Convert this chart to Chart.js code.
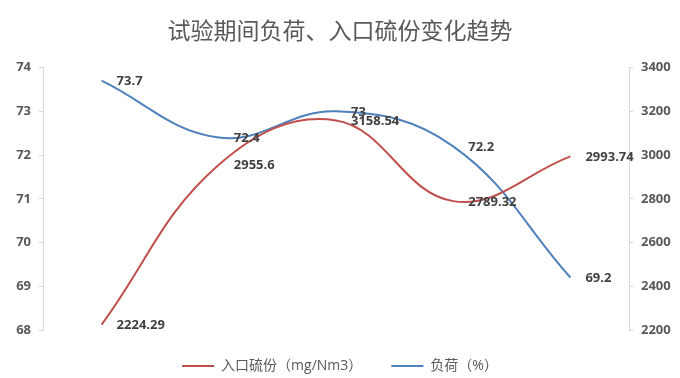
<!DOCTYPE html>
<html>
<head>
<meta charset="utf-8">
<script src="https://cdn.jsdelivr.net/npm/chart.js@4/dist/chart.umd.min.js"></script>
<style>
html,body{margin:0;padding:0;background:#fff;}
#wrap{width:680px;height:378px;position:relative;}
</style>
</head>
<body>
<div id="wrap"><canvas id="c"></canvas></div>
<script>
const categories = ['1', '2', '3', '4', '5'];
const sulfur = [2224.29, 2955.6, 3158.54, 2789.32, 2993.74];
const load = [73.7, 72.4, 73, 72.2, 69.2];
const sulfurLabel = '入口硫份（mg/Nm3）';
const loadLabel = '负荷（%）';
const titleText = '试验期间负荷、入口硫份变化趋势';
const leftTicks = {min: 68, max: 74, step: 1};
const rightTicks = {min: 2200, max: 3400, step: 200};

const RED = '#c0504d';
const BLUE = '#4f81bd';
const FONT = '"Open Sans", "Noto Sans CJK SC", sans-serif';

const labelPlugin = {
  id: 'dataLabels',
  afterDatasetsDraw(chart) {
    const ctx = chart.ctx;
    ctx.save();
    ctx.font = 'bold 13px ' + FONT;
    ctx.fillStyle = '#404040';
    ctx.textAlign = 'left';
    ctx.textBaseline = 'middle';
    chart.data.datasets.forEach((ds, i) => {
      const meta = chart.getDatasetMeta(i);
      meta.data.forEach((pt, j) => {
        ctx.fillText(String(ds.data[j]), pt.x + 15, pt.y + 1);
      });
    });
    ctx.restore();
  }
};

new Chart(document.getElementById('c'), {
  type: 'line',
  data: {
    labels: categories,
    datasets: [
      {label: sulfurLabel, data: sulfur, yAxisID: 'y1', borderColor: RED, backgroundColor: RED,
       borderWidth: 2, pointRadius: 0, tension: 0.4, fill: false},
      {label: loadLabel, data: load, yAxisID: 'y', borderColor: BLUE, backgroundColor: BLUE,
       borderWidth: 2, pointRadius: 0, tension: 0.4, fill: false}
    ]
  },
  options: {
    responsive: true,
    maintainAspectRatio: false,
    animation: false,
    events: [],
    layout: {padding: {left: 0, right: 0, top: 0, bottom: -5}},
    plugins: {
      title: {
        display: true, text: titleText, color: '#595959',
        font: {family: '"Noto Sans CJK SC", sans-serif', size: 23, weight: 'normal', lineHeight: 1.2},
        padding: {top: 16, bottom: 24}
      },
      legend: {
        position: 'bottom',
        labels: {
          color: '#595959', boxWidth: 32, boxHeight: 2, padding: 29,
          font: {family: FONT, size: 14},
          generateLabels(chart) {
            const items = Chart.defaults.plugins.legend.labels.generateLabels(chart);
            items.forEach(it => { it.lineWidth = 0; });
            return items;
          }
        }
      },
      tooltip: {enabled: false}
    },
    scales: {
      x: {
        offset: true,
        display: false,
        grid: {display: false}
      },
      y: {
        position: 'left',
        min: leftTicks.min, max: leftTicks.max,
        ticks: {stepSize: leftTicks.step, color: '#595959', font: {family: FONT, size: 13, weight: 'bold'}, padding: 8,
                callback: v => String(v)},
        grid: {drawOnChartArea: false, tickLength: 4, color: '#d9d9d9'},
        border: {color: '#d9d9d9', width: 1},
        afterFit(s) { s.width = 43; }
      },
      y1: {
        position: 'right',
        min: rightTicks.min, max: rightTicks.max,
        ticks: {stepSize: rightTicks.step, color: '#595959', font: {family: FONT, size: 13, weight: 'bold'}, padding: 8,
                callback: v => String(v)},
        grid: {drawOnChartArea: false, tickLength: 4, color: '#d9d9d9'},
        border: {color: '#d9d9d9', width: 1},
        afterFit(s) { s.width = 51; }
      }
    }
  },
  plugins: [labelPlugin]
});
</script>
</body>
</html>
